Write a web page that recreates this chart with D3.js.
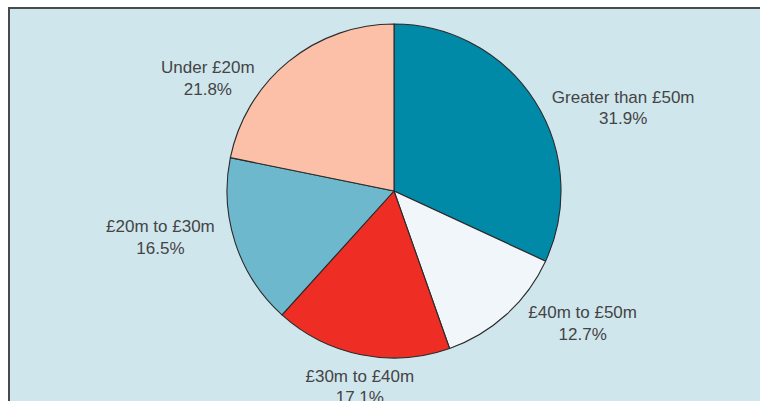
<!DOCTYPE html>
<html>
<head>
<meta charset="utf-8">
<script src="https://cdn.jsdelivr.net/npm/d3@7"></script>
<style>
  body { margin: 0; background: #fff; }
  svg { display: block; }
</style>
</head>
<body>
<svg></svg>
<script>
// data
var categories = ["Greater than £50m", "£40m to £50m", "£30m to £40m", "£20m to £30m", "Under £20m"];
var shares = [31.9, 12.7, 17.1, 16.5, 21.8];
var colours = ["#008aa8", "#f0f6f9", "#ee2e24", "#6eb8cd", "#fcc0a8"];

var screen = {width: 760, height: 401};
var centre = {x: 394, y: 191};
var radius = 167;

// label placement: distance from centre and small angle nudge (degrees)
var labelRadius = [244, 230, 198, 238, 218];
var labelNudge = [12.5, -12.8, -1.4, 7.1, -19.4];

var svg = d3.select("svg")
            .attr("width", screen.width)
            .attr("height", screen.height);

// panel
svg.append("rect")
   .attr("x", 9)
   .attr("y", 8)
   .attr("width", screen.width + 10)
   .attr("height", screen.height + 10)
   .attr("fill", "#d0e6ed")
   .attr("stroke", "#4a4a4a")
   .attr("stroke-width", 2);

var pie = d3.pie().sort(null).value(function(d){return d});
var arcs = pie(shares);

var arc = d3.arc().innerRadius(0).outerRadius(radius);

var g = svg.append("g")
           .attr("transform", "translate(" + centre.x + "," + centre.y + ")");

g.selectAll("path")
 .data(arcs)
 .enter()
 .append("path")
 .attr("d", arc)
 .attr("fill", function(d, i){return colours[i]})
 .attr("stroke", "#2a2a2a")
 .attr("stroke-width", 1.1)
 .attr("stroke-linejoin", "round");

//labels
var labels = g.selectAll("text.lab")
  .data(arcs)
  .enter()
  .append("text")
  .attr("class", "lab")
  .attr("text-anchor", "middle")
  .attr("font-family", "'Liberation Sans', Arial, sans-serif")
  .attr("font-size", 17)
  .attr("fill", "#444")
  .attr("transform", function(d, i){
    var a = (d.startAngle + d.endAngle) / 2 + labelNudge[i] * Math.PI / 180;
    var r = labelRadius[i];
    return "translate(" + (Math.sin(a) * r) + "," + (-Math.cos(a) * r) + ")";
  });

labels.append("tspan")
  .attr("x", 0)
  .attr("dy", "-0.25em")
  .text(function(d, i){return categories[i]});

labels.append("tspan")
  .attr("x", 0)
  .attr("dy", "1.25em")
  .text(function(d, i){return shares[i].toFixed(1) + "%"});
</script>
</body>
</html>
